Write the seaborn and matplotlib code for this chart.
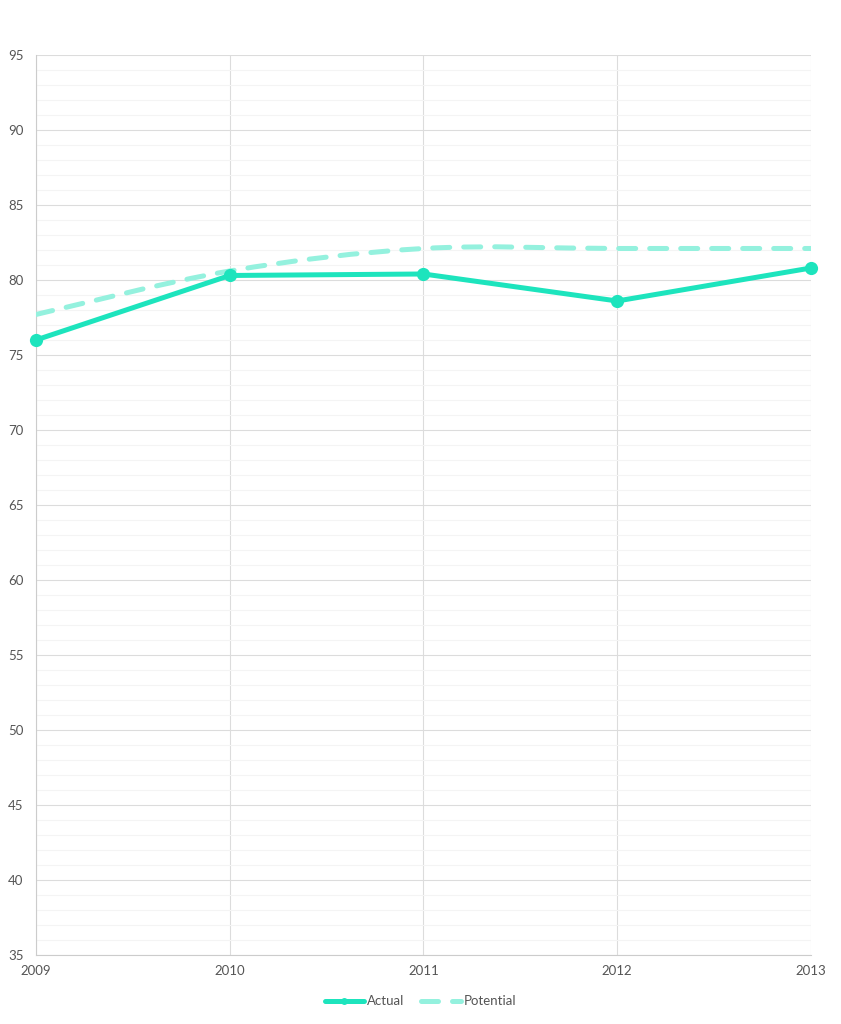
import numpy as np
import pandas as pd
import matplotlib
matplotlib.use('Agg')
import matplotlib.pyplot as plt
from matplotlib.path import Path
from matplotlib.patches import PathPatch
from matplotlib.lines import Line2D
from matplotlib.ticker import MultipleLocator
import seaborn as sns

years = [2009, 2010, 2011, 2012, 2013]
actual = [76.0, 80.3, 80.4, 78.6, 80.8]
potential = [77.7, 80.6, 82.1, 82.1, 82.1]

actual_color = '#1de4bd'
potential_color = '#94f1de'


def spline_path(xs, ys):
    # catmull-rom spline through the points, as cubic bezier segments
    xs = np.asarray(xs, dtype=float)
    ys = np.asarray(ys, dtype=float)
    pts = np.column_stack([xs, ys])
    n = len(pts)
    verts = [pts[0]]
    codes = [Path.MOVETO]
    for i in range(n - 1):
        p0 = pts[i - 1] if i > 0 else pts[i]
        p1 = pts[i]
        p2 = pts[i + 1]
        p3 = pts[i + 2] if i + 2 < n else pts[i + 1]
        c1 = p1 + (p2 - p0) / 6
        c2 = p2 - (p3 - p1) / 6
        verts += [c1, c2, p2]
        codes += [Path.CURVE4] * 3
    return Path(verts, codes)


sns.set_style('white')
plt.rcParams['font.family'] = ['Lato', 'DejaVu Sans']

df = pd.DataFrame({'year': years, 'Actual': actual})

fig = plt.figure(figsize=(8.41, 10.24), dpi=100)
ax = fig.add_axes([0.0428, 0.0674, 0.9215, 0.8789])

ax.add_patch(PathPatch(spline_path(years, potential), fill=False,
                       edgecolor=potential_color, lw=3.6,
                       linestyle=(0, (3.4, 2.8)), capstyle='round', zorder=3))

sns.lineplot(data=df, x='year', y='Actual', ax=ax, color=actual_color,
             lw=3.6, marker='o', markersize=9.5, markeredgewidth=0,
             legend=False, zorder=4, clip_on=False)

ax.set_xlim(2009, 2013)
ax.set_ylim(35, 95)
ax.set_xticks(years)
ax.set_xticklabels([str(y) for y in years])
ax.yaxis.set_major_locator(MultipleLocator(5))
ax.yaxis.set_minor_locator(MultipleLocator(1))
ax.grid(which='major', axis='y', color='#dcdcdc', lw=0.8)
ax.grid(which='minor', axis='y', color='#f4f4f4', lw=0.8)
ax.grid(which='major', axis='x', color='#dcdcdc', lw=0.8)
ax.set_axisbelow(True)
ax.set_xlabel('')
ax.set_ylabel('')

for s in ['top', 'right']:
    ax.spines[s].set_visible(False)
for s in ['left', 'bottom']:
    ax.spines[s].set_color('#cccccc')
    ax.spines[s].set_linewidth(0.8)

ax.tick_params(axis='y', which='major', length=4, color='#cccccc', width=0.8,
               labelsize=9.5, labelcolor='#555555', pad=5)
ax.tick_params(axis='y', which='minor', length=0)
ax.tick_params(axis='x', length=0, labelsize=9.5, labelcolor='#555555', pad=7)

handles = [
    Line2D([], [], color=actual_color, lw=3.6, marker='o', markersize=5,
           markeredgewidth=0),
    Line2D([], [], color=potential_color, lw=3.6, linestyle=(0, (3.4, 2.8)),
           dash_capstyle='round'),
]
fig.legend(handles, ['Actual', 'Potential'], loc='center',
           bbox_to_anchor=(0.5, 0.022), ncol=2, frameon=False,
           fontsize=9.5, labelcolor='#555555', handlelength=3.0,
           handletextpad=0.2, columnspacing=1.3)

fig.savefig('out.png', dpi=100)
